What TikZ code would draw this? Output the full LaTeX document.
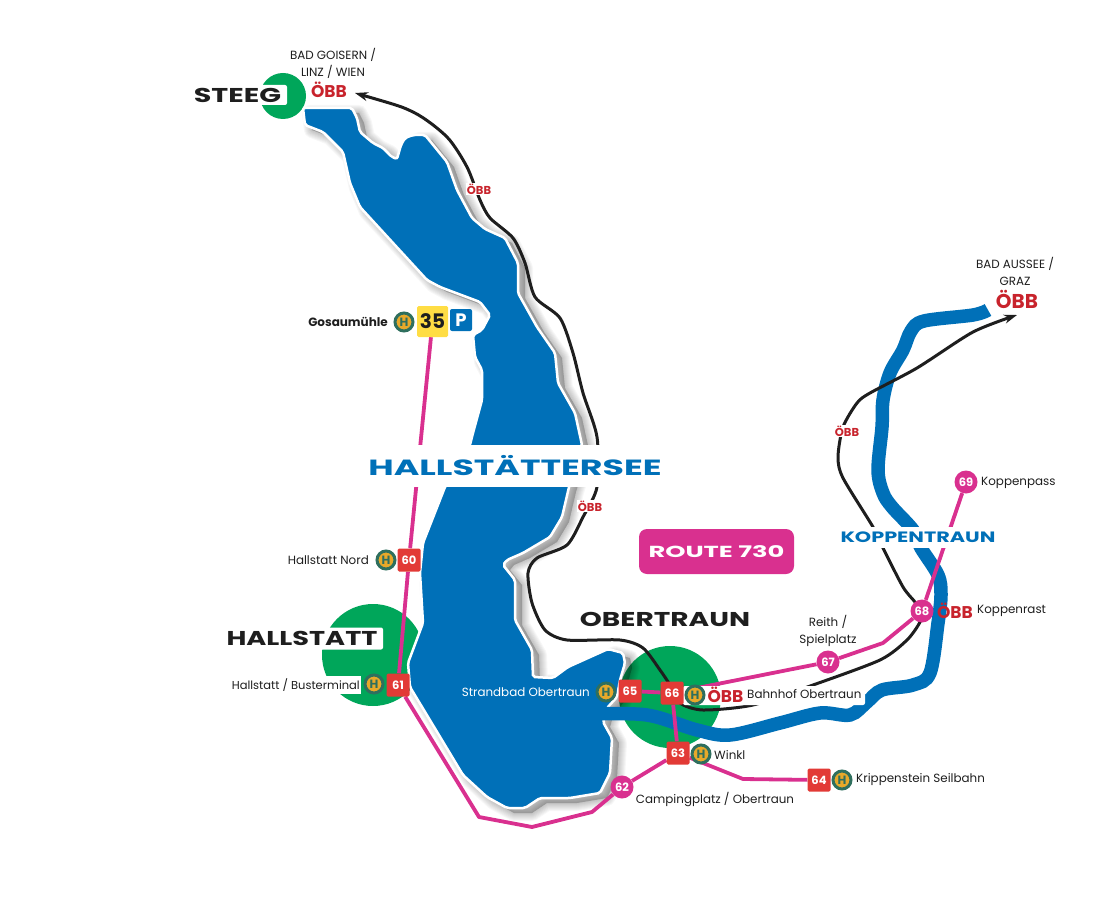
\documentclass[tikz,border=0pt]{standalone}
\usepackage{fontspec}
\usepackage{graphicx}
\setmainfont{Poppins}
\usetikzlibrary{arrows.meta,shapes.geometric}
\pgfdeclarelayer{back}
\pgfsetlayers{back,main}
\definecolor{lakeblue}{HTML}{0070B8}
\definecolor{routepink}{HTML}{D9308F}
\definecolor{stopred}{HTML}{E23A36}
\definecolor{townsgreen}{HTML}{00A65A}
\definecolor{busgreen}{HTML}{2F6F5E}
\definecolor{busyellow}{HTML}{E8A92A}
\definecolor{signyellow}{HTML}{FFDD44}
\definecolor{railred}{HTML}{C8232C}
\definecolor{inkblack}{HTML}{1E1E1E}
\newcommand{\wide}[2]{\scalebox{#1}[1]{#2}}
\newcommand{\lakeshape}{(303,108) -- (352,108) -- (357,118) -- (360,132) -- (373,143) -- (383,148) -- (392,157) -- (397,159) -- (401,145) -- (405,138) -- (413,135) -- (425,135) -- (447,162) -- (457,190) -- (472,218) -- (485,229) -- (505,238) -- (518,263) -- (518,293) -- (537,327) -- (555,353) -- (558,383) -- (575,413) -- (582,445) -- (569,487) -- (562,517) -- (550,537) -- (523,553) -- (507,560) -- (503,565) -- (515,580) -- (515,620) -- (532,650) -- (533,677) -- (553,678) -- (568,667) -- (608,649) -- (623,653) -- (625,663) -- (620,680) -- (617,697) -- (607,708) -- (603,722) -- (612,738) -- (610,773) -- (600,793) -- (570,798) -- (540,798) -- (525,808) -- (507,808) -- (487,797) -- (463,775) -- (410,687) -- (408,663) -- (423,623) -- (420,573) -- (423,543) -- (445,487) -- (470,445) -- (473,433) -- (482,400) -- (482,370) -- (475,357) -- (473,335) -- (482,330) -- (490,315) -- (480,302) -- (440,287) -- (427,280) -- (360,207) -- (350,183) -- (343,152) -- (323,132) -- (305,125) -- cycle}
\tikzset{
  routeline/.style={draw=routepink,line width=3.8pt,line join=round},
  railline/.style={draw=inkblack,line width=3pt,line join=round},
  riverline/.style={draw=lakeblue,line width=13.5pt},
  redstop/.style={fill=stopred,rounded corners=1.5pt,minimum size=23pt,inner sep=0pt,text=white,font=\bfseries\fontsize{11.5}{12}\selectfont},
  pinkstop/.style={circle,fill=routepink,minimum size=23pt,inner sep=0pt,text=white,font=\bfseries\fontsize{11.5}{12}\selectfont},
  busstop/.style={circle,fill=busyellow,draw=busgreen,line width=3pt,minimum size=18pt,inner sep=0pt,text=busgreen,font=\bfseries\fontsize{12}{12}\selectfont},
  placename/.style={text=inkblack,inner sep=1pt,font=\fontsize{11.9}{17}\selectfont,align=center},
  biglogo/.style={text=railred,inner sep=0pt,font=\bfseries\fontsize{17}{17}\selectfont},
  smalllogo/.style={text=railred,fill=white,inner sep=1pt,font=\bfseries\fontsize{11.5}{12}\selectfont},
  townname/.style={text=inkblack,fill=white,rounded corners=2pt,inner sep=0pt,font=\bfseries\fontsize{20}{20}\selectfont},
  bandname/.style={text=lakeblue,fill=white,inner sep=0pt,font=\bfseries}
}

\begin{document}
\begin{tikzpicture}[x=1pt,y=-1pt]
  \useasboundingbox (0,0) rectangle (1113,917);

  % stops
  \node[fill=signyellow,rounded corners=1.5pt,minimum size=31pt,inner sep=0pt,text=inkblack,font=\bfseries\fontsize{20}{20}\selectfont] (s35) at (432.5,321.5) {35};
  \node[fill=lakeblue,rounded corners=2pt,minimum size=22pt,inner sep=0pt,text=white,font=\bfseries\fontsize{18}{18}\selectfont] (park) at (461,320) {P};
  \node[redstop] (s60) at (409,560) {60};
  \node[redstop] (s61) at (398,685) {61};
  \node[pinkstop] (s62) at (622,787) {62};
  \node[redstop] (s63) at (678,753) {63};
  \node[redstop] (s64) at (819,780) {64};
  \node[redstop] (s65) at (630,691) {65};
  \node[fill=white,rounded corners=2pt,minimum width=182pt,minimum height=19pt,inner sep=0pt] (bahnhofbox) at (774,695.5) {};
  \node[redstop] (s66) at (672,693) {66};
  \node[pinkstop] (s67) at (828,662) {67};
  \node[pinkstop] (s68) at (922,611) {68};
  \node[pinkstop] (s69) at (966,482) {69};

  % bus signs
  \node[busstop] (h35) at (404,322) {H};
  \node[busstop] (h60) at (386,560) {H};
  \node[busstop] (h61) at (374,684) {H};
  \node[busstop] (h63) at (701,754) {H};
  \node[busstop] (h64) at (842,780) {H};
  \node[busstop] (h65) at (606,692) {H};
  \node[busstop] (h66) at (695,695) {H};

  % names of the stops
  \node[placename,anchor=east,font=\bfseries\fontsize{12}{14}\selectfont] (n35) at (389,322) {Gosaumühle};
  \node[placename,anchor=east] (n60) at (370,560) {Hallstatt Nord};
  \node[placename,anchor=east,fill=white,inner ysep=2.5pt,font=\fontsize{11.5}{14}\selectfont] (n61) at (361,685) {Hallstatt / Busterminal};
  \node[placename,anchor=center] (n62) at (715,799) {Campingplatz / Obertraun};
  \node[placename,anchor=west] (n63) at (713,755) {Winkl};
  \node[placename,anchor=west] (n64) at (855,780) {Krippenstein Seilbahn};
  \node[placename,anchor=east,text=white] (n65) at (591,692) {Strandbad Obertraun};
  \node[placename,anchor=west] (n66) at (746,694) {Bahnhof Obertraun};
  \node[placename] (n67) at (828,630.5) {Reith /\\Spielplatz};
  \node[placename,anchor=west] (n68) at (976,611) {Koppenrast};
  \node[placename,anchor=west] (n69) at (980,483) {Koppenpass};
  \node[placename] (goisern) at (333,63.5) {BAD GOISERN /\\LINZ / WIEN};
  \node[placename] (aussee) at (1015,271) {BAD AUSSEE /\\GRAZ};

  % railway signs
  \node[biglogo] (oebbgoisern) at (329,90) {ÖBB};
  \node[biglogo,font=\bfseries\fontsize{20}{20}\selectfont] (oebbaussee) at (1017,299) {ÖBB};
  \node[biglogo] (oebbbahnhof) at (725.5,695) {ÖBB};
  \node[biglogo] (oebbkoppen) at (955,611) {ÖBB};
  \node[smalllogo] (oebbnorth) at (479,189) {ÖBB};
  \node[smalllogo] (oebbmid) at (590,506) {ÖBB};
  \node[smalllogo] (oebbeast) at (847,431) {ÖBB};

  % town names and lake names
  \node[townname,minimum width=99pt,minimum height=20pt] (steeg) at (237.5,95) {\wide{1.43}{STEEG}};
  \node[townname,minimum width=162pt,minimum height=22pt] (hallstatt) at (302,638.5) {\wide{1.36}{HALLSTATT}};
  \node[townname,fill=none] (obertraun) at (665,619.5) {\wide{1.4}{OBERTRAUN}};
  \node[bandname,minimum width=306pt,minimum height=42pt,font=\bfseries\fontsize{22}{22}\selectfont] (hallstaettersee) at (515,466) {\wide{1.58}{HALLSTÄTTERSEE}};
  \node[bandname,minimum width=162pt,minimum height=21pt,font=\bfseries\fontsize{15}{15}\selectfont] (koppentraun) at (918,537.5) {\wide{1.385}{KOPPENTRAUN}};
  \node[fill=routepink,rounded corners=8pt,minimum width=155pt,minimum height=45pt,inner sep=0pt,text=white,font=\bfseries\fontsize{16}{16}\selectfont] (route) at (716.5,551.5) {\wide{1.61}{ROUTE 730}};

  \coordinate (raileast) at (1017,315);
  \coordinate (railwest) at (355,93);

  \begin{pgfonlayer}{back}
    \fill[townsgreen] (283,96) circle (23);
    \fill[townsgreen] (373,655) circle (51);
    \fill[townsgreen] (670,697) circle (51);

    \foreach \k in {1,...,8}
      \fill[black,opacity=0.03,draw=black,line width=2*\k pt,line join=round,shift={(7,5)}] \lakeshape;
    \filldraw[fill=lakeblue,draw=white,line width=2.5pt,rounded corners=2pt] \lakeshape;

    \draw[riverline,line cap=butt] plot[smooth,tension=0.55] coordinates {(590,714) (647,715) (697,730) (730,735) (780,723) (820,713) (850,715) (867,702) (882,690) (913,685) (930,673) (938,623) (941,595) (938,575) (921,548) (913,530) (892,507) (883,493) (878,470) (882,427) (883,400) (890,373) (903,350) (911,331) (924,321) (973,315) (988,310)};

    \draw[railline,{Stealth[length=13pt,width=9pt]}-{Stealth[length=13pt,width=9pt]}] plot[smooth,tension=0.45] coordinates {(railwest) (413,112) (447,137) (467,167) (480,200) (490,218) (513,238) (525,263) (535,297) (560,318) (573,353) (583,393) (597,437) (597,487) (583,517) (567,545) (537,558) (528,573) (532,603) (545,630) (567,640) (620,640) (643,648) (660,670) (670,685) (680,703) (703,710) (753,705) (813,685) (880,660) (907,640) (920,622) (921,611) (915,602) (903,587) (883,548) (873,527) (843,478) (838,457) (843,427) (857,403) (870,393) (917,368) (973,332) (raileast)};

    \foreach \from/\to in {s35/s60,s60/s61,s62/s63,s65/s66,s66/s63,s66/s67,s68/s69}
      \draw[routeline] (\from) -- (\to);
    \draw[routeline] (s61) -- (479,817) -- (532,827) -- (592,812) -- (s62);
    \draw[routeline] (s63) -- (743,779) -- (s64);
    \draw[routeline] (s67) -- (883,643) -- (s68);
  \end{pgfonlayer}
\end{tikzpicture}
\end{document}
